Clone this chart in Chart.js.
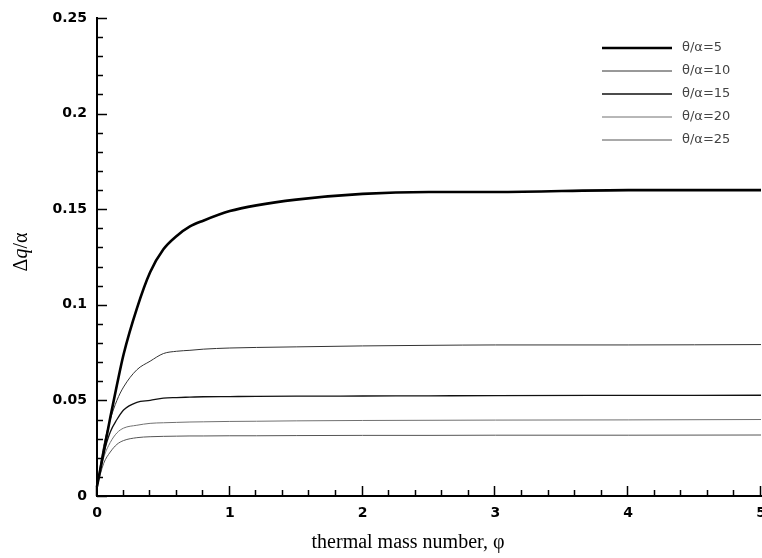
<!DOCTYPE html>
<html>
<head>
<meta charset="utf-8">
<script src="https://cdn.jsdelivr.net/npm/chart.js@4.4.0/dist/chart.umd.min.js"></script>
<style>
    html, body { margin: 0; padding: 0; background: #fff; overflow: hidden; }
    #wrap { width: 762px; height: 558px; }
</style>
</head>
<body>
<div id="wrap"><canvas id="heatChart"></canvas></div>
<script>
// thermal mass number values (x)
const phiValues = [0, 0.05, 0.1, 0.15, 0.2, 0.3, 0.4, 0.5, 0.6, 0.7, 0.8, 1, 1.2, 1.5, 2, 2.5, 3, 4, 5];

// dq/alpha for each theta/alpha
const seriesLabels = ['θ/α=5', 'θ/α=10', 'θ/α=15', 'θ/α=20', 'θ/α=25'];
const dq5  = [0.005, 0.023, 0.041, 0.058, 0.074, 0.098, 0.117, 0.129, 0.136, 0.141, 0.144, 0.149, 0.152, 0.155, 0.158, 0.159, 0.159, 0.160, 0.160];
const dq10 = [0.005, 0.026, 0.040, 0.050, 0.057, 0.066, 0.0705, 0.0745, 0.0757, 0.0762, 0.0768, 0.0774, 0.0777, 0.078, 0.0785, 0.0788, 0.079, 0.079, 0.0792];
const dq15 = [0.005, 0.022, 0.0335, 0.040, 0.045, 0.049, 0.050, 0.0512, 0.0515, 0.0517, 0.0519, 0.052, 0.0521, 0.0522, 0.0523, 0.0524, 0.0525, 0.0526, 0.0527];
const dq20 = [0.005, 0.020, 0.028, 0.033, 0.0355, 0.037, 0.038, 0.0383, 0.0385, 0.0387, 0.0388, 0.039, 0.0391, 0.0393, 0.0395, 0.0396, 0.0397, 0.0398, 0.040];
const dq25 = [0.005, 0.017, 0.023, 0.027, 0.029, 0.0305, 0.031, 0.0312, 0.0313, 0.0314, 0.0314, 0.0315, 0.0315, 0.0316, 0.0317, 0.0317, 0.0318, 0.0318, 0.0319];

// axis ticks
const xTicks = [0, 1, 2, 3, 4, 5];
const xTickLabels = ['0', '1', '2', '3', '4', '5'];
const yTicks = [0, 0.05, 0.1, 0.15, 0.2, 0.25];
const yTickLabels = ['0', '0.05', '0.1', '0.15', '0.2', '0.25'];

const lineColors = ['#000000', '#333333', '#111111', '#707070', '#555555'];
const lineWidths = [2.6, 1, 1.3, 1, 1];
const allSeries = [dq5, dq10, dq15, dq20, dq25];

function toPoints(arr) {
    return arr.map((v, i) => ({ x: phiValues[i], y: v }));
}

// inner tick marks, legend and axis titles
const decorPlugin = {
    id: 'decor',
    afterDraw(chart) {
        const ctx = chart.ctx;
        const xs = chart.scales.x;
        const ys = chart.scales.y;
        const area = chart.chartArea;
        ctx.save();
        ctx.strokeStyle = '#000';
        ctx.lineWidth = 1.5;
        // y ticks
        for (let i = 0; i <= 25; i++) {
            const v = i / 100;
            const py = Math.round(ys.getPixelForValue(v)) + 0.5;
            const len = (i % 5 === 0) ? 10 : 6;
            ctx.beginPath();
            ctx.moveTo(area.left, py);
            ctx.lineTo(area.left + len, py);
            ctx.stroke();
        }
        // x ticks
        for (let i = 0; i <= 25; i++) {
            const v = i / 5;
            const px = Math.round(xs.getPixelForValue(v)) - 0.5;
            const len = (i % 5 === 0) ? 10 : 6;
            ctx.beginPath();
            ctx.moveTo(px, area.bottom);
            ctx.lineTo(px, area.bottom - len);
            ctx.stroke();
        }

        // legend
        const legX = 602, legY = 48, rowH = 23;
        chart.data.datasets.forEach((ds, i) => {
            const y = legY + i * rowH;
            ctx.strokeStyle = ds.borderColor;
            ctx.lineWidth = ds.borderWidth;
            ctx.beginPath();
            ctx.moveTo(legX, y);
            ctx.lineTo(legX + 70, y);
            ctx.stroke();
            ctx.fillStyle = '#444';
            ctx.font = '13px "DejaVu Sans"';
            ctx.textBaseline = 'middle';
            ctx.textAlign = 'left';
            ctx.fillText(ds.label, legX + 80, y);
        });

        // x title
        ctx.fillStyle = '#000';
        ctx.font = '20px "Liberation Serif"';
        ctx.textAlign = 'center';
        ctx.textBaseline = 'alphabetic';
        ctx.fillText('thermal mass number, φ', 408, 548);

        // y title (Δq/α with italic q)
        ctx.translate(27, 252);
        ctx.rotate(-Math.PI / 2);
        const parts = [['Δ', ''], ['q', 'italic '], ['/α', '']];
        let total = 0;
        parts.forEach(p => {
            ctx.font = p[1] + '20px "Liberation Serif"';
            total += ctx.measureText(p[0]).width;
        });
        let cx = -total / 2;
        ctx.textAlign = 'left';
        parts.forEach(p => {
            ctx.font = p[1] + '20px "Liberation Serif"';
            ctx.fillText(p[0], cx, 0);
            cx += ctx.measureText(p[0]).width;
        });
        ctx.restore();
    }
};

document.addEventListener('DOMContentLoaded', function () {
    const ctx = document.getElementById('heatChart').getContext('2d');
    new Chart(ctx, {
        type: 'line',
        data: {
            datasets: allSeries.map((s, i) => ({
                label: seriesLabels[i],
                data: toPoints(s),
                borderColor: lineColors[i],
                borderWidth: lineWidths[i],
                pointRadius: 0,
                fill: false,
                clip: false,
                cubicInterpolationMode: 'monotone'
            }))
        },
        options: {
            responsive: true,
            maintainAspectRatio: false,
            animation: false,
            layout: { padding: { top: 18, right: 1, left: 0, bottom: 0 } },
            plugins: {
                legend: { display: false },
                tooltip: { enabled: false }
            },
            scales: {
                x: {
                    type: 'linear',
                    min: 0,
                    max: 5,
                    afterFit(scale) {
                        scale.height = 62;
                        scale.paddingLeft = 0;
                        scale.paddingRight = 0;
                    },
                    afterBuildTicks(scale) { scale.ticks = xTicks.map(v => ({ value: v })); },
                    grid: { display: false, drawTicks: false },
                    border: { display: true, color: '#000', width: 2 },
                    ticks: {
                        padding: 9,
                        color: '#000',
                        maxRotation: 0,
                        font: { family: 'DejaVu Sans', size: 14, weight: 'bold' },
                        callback: (v) => xTickLabels[xTicks.indexOf(v)]
                    }
                },
                y: {
                    min: 0,
                    max: 0.25,
                    afterFit(scale) {
                        scale.width = 97;
                        scale.paddingTop = 0;
                        scale.paddingBottom = 0;
                    },
                    afterBuildTicks(scale) { scale.ticks = yTicks.map(v => ({ value: v })); },
                    grid: { display: false, drawTicks: false },
                    border: { display: true, color: '#000', width: 2 },
                    ticks: {
                        padding: 10,
                        color: '#000',
                        font: { family: 'DejaVu Sans', size: 14, weight: 'bold' },
                        callback: (v) => yTickLabels[yTicks.indexOf(v)]
                    }
                }
            }
        },
        plugins: [decorPlugin]
    });
});
</script>
</body>
</html>
